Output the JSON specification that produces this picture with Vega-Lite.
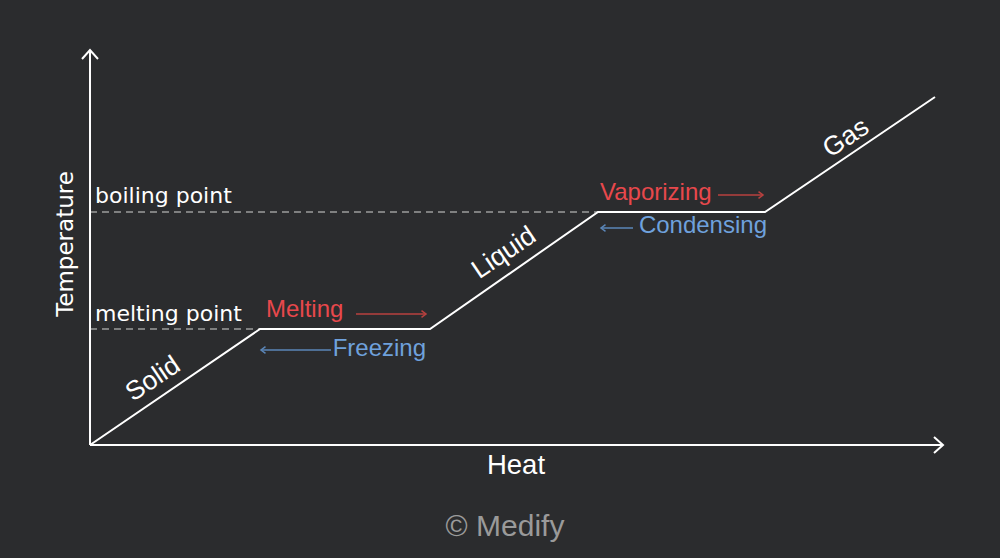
{
  "$schema": "https://vega.github.io/schema/vega-lite/v6.json",
  "width": 1000,
  "height": 558,
  "autosize": {"type": "fit", "contains": "padding"},
  "padding": 0,
  "background": "#2b2c2e",
  "config": {"view": {"stroke": null}},
  "datasets": {
    "curve": [
      {"heat": 0, "temp": 0},
      {"heat": 170, "temp": 116},
      {"heat": 340, "temp": 116},
      {"heat": 508, "temp": 233},
      {"heat": 675, "temp": 233},
      {"heat": 845, "temp": 348}
    ],
    "axes": [
      {"heat": 0, "temp": 0, "heat2": 853, "temp2": 0},
      {"heat": 0, "temp": 0, "heat2": 0, "temp2": 395}
    ],
    "dashes": [
      {"heat": 0, "heat2": 170, "temp": 116},
      {"heat": 0, "heat2": 508, "temp": 233}
    ],
    "arrows": [
      {"phase": "Melting", "dir": "right", "heat": 266, "heat2": 336, "temp": 131},
      {"phase": "Freezing", "dir": "left", "heat": 171, "heat2": 241, "temp": 95},
      {"phase": "Vaporizing", "dir": "right", "heat": 628, "heat2": 673, "temp": 250},
      {"phase": "Condensing", "dir": "left", "heat": 511, "heat2": 543, "temp": 217}
    ],
    "states": [
      {"label": "Solid", "heat": 63, "temp": 66},
      {"label": "Liquid", "heat": 414, "temp": 192},
      {"label": "Gas", "heat": 756, "temp": 307}
    ]
  },
  "encoding": {
    "x": {"field": "heat", "type": "quantitative", "scale": {"domain": [-90, 910], "nice": false, "zero": false}, "axis": null},
    "y": {"field": "temp", "type": "quantitative", "scale": {"domain": [-113, 445], "nice": false, "zero": false}, "axis": null}
  },
  "layer": [
    {
      "data": {"name": "dashes"},
      "mark": {"type": "rule", "color": "#9c9c9c", "strokeWidth": 1.5, "strokeDash": [7, 5]},
      "encoding": {"x2": {"field": "heat2"}}
    },
    {
      "data": {"name": "axes"},
      "mark": {"type": "rule", "color": "white", "strokeWidth": 2},
      "encoding": {"x2": {"field": "heat2"}, "y2": {"field": "temp2"}}
    },
    {
      "data": {"values": [{"heat": 853, "temp": 0}]},
      "mark": {"type": "point", "shape": "M -0.9 -0.8 L 0 0 L -0.9 0.8", "size": 400, "filled": false, "stroke": "white", "strokeWidth": 2, "opacity": 1}
    },
    {
      "data": {"values": [{"heat": 0, "temp": 395}]},
      "mark": {"type": "point", "shape": "M -0.8 0.9 L 0 0 L 0.8 0.9", "size": 400, "filled": false, "stroke": "white", "strokeWidth": 2, "opacity": 1}
    },
    {
      "data": {"name": "curve"},
      "mark": {"type": "line", "color": "white", "strokeWidth": 2}
    },
    {
      "data": {"name": "arrows"},
      "mark": {"type": "rule", "strokeWidth": 1.5},
      "encoding": {
        "x2": {"field": "heat2"},
        "color": {"field": "phase", "type": "nominal", "legend": null,
          "scale": {"domain": ["Melting", "Vaporizing", "Freezing", "Condensing"], "range": ["#b8413f", "#b8413f", "#5b86b8", "#5b86b8"]}}
      }
    },
    {
      "data": {"name": "arrows"},
      "transform": [{"filter": "datum.dir == 'right'"}],
      "mark": {"type": "point", "shape": "M -1 -0.75 L 0 0 L -1 0.75", "size": 81, "filled": false, "stroke": "#b8413f", "strokeWidth": 1.5, "opacity": 1},
      "encoding": {"x": {"field": "heat2", "type": "quantitative"}}
    },
    {
      "data": {"name": "arrows"},
      "transform": [{"filter": "datum.dir == 'left'"}],
      "mark": {"type": "point", "shape": "M 1 -0.75 L 0 0 L 1 0.75", "size": 81, "filled": false, "stroke": "#5b86b8", "strokeWidth": 1.5, "opacity": 1}
    },
    {
      "data": {"values": [
        {"label": "Melting", "heat": 176, "temp": 128},
        {"label": "Vaporizing", "heat": 510, "temp": 245}
      ]},
      "mark": {"type": "text", "align": "left", "baseline": "alphabetic", "font": "Liberation Sans", "fontSize": 24, "color": "#e8484c"},
      "encoding": {"text": {"field": "label"}}
    },
    {
      "data": {"values": [
        {"label": "Freezing", "heat": 336, "temp": 89},
        {"label": "Condensing", "heat": 677, "temp": 212}
      ]},
      "mark": {"type": "text", "align": "right", "baseline": "alphabetic", "font": "Liberation Sans", "fontSize": 24, "color": "#6fa1dc"},
      "encoding": {"text": {"field": "label"}}
    },
    {
      "data": {"values": [
        {"label": "boiling point", "heat": 5, "temp": 242},
        {"label": "melting point", "heat": 5, "temp": 124}
      ]},
      "mark": {"type": "text", "align": "left", "baseline": "alphabetic", "font": "DejaVu Sans", "fontSize": 22, "color": "white"},
      "encoding": {"text": {"field": "label"}}
    },
    {
      "data": {"name": "states"},
      "mark": {"type": "text", "align": "center", "baseline": "middle", "font": "Liberation Sans", "fontSize": 26.5, "angle": 326, "color": "white"},
      "encoding": {"text": {"field": "label"}}
    },
    {
      "data": {"values": [{"label": "Temperature", "heat": -24, "temp": 201}]},
      "mark": {"type": "text", "align": "center", "baseline": "middle", "font": "DejaVu Sans", "fontSize": 23, "angle": 270, "color": "white"},
      "encoding": {"text": {"field": "label"}}
    },
    {
      "data": {"values": [{"label": "Heat", "heat": 426, "temp": -21}]},
      "mark": {"type": "text", "align": "center", "baseline": "middle", "font": "Liberation Sans", "fontSize": 27.5, "color": "white"},
      "encoding": {"text": {"field": "label"}}
    },
    {
      "data": {"values": [{"label": "© Medify", "heat": 415, "temp": -82}]},
      "mark": {"type": "text", "align": "center", "baseline": "middle", "font": "Liberation Sans", "fontSize": 30, "color": "#9a9a9a"},
      "encoding": {"text": {"field": "label"}}
    }
  ]
}
